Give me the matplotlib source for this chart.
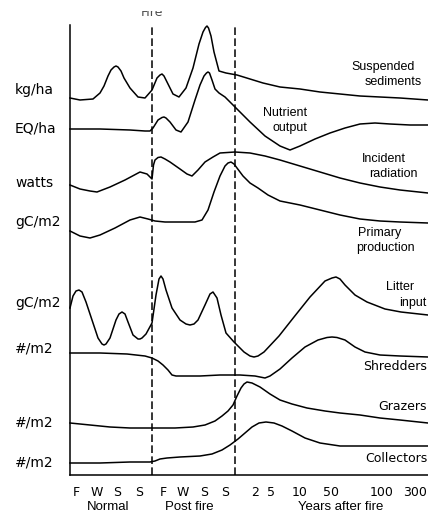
import matplotlib.pyplot as plt
from matplotlib.transforms import Bbox, TransformedBbox

# time axis: seasons (normal year, post fire year) then years after fire
tick_pos = [76, 97, 117, 139, 163, 183, 204, 225, 255, 271, 300, 331, 382, 415]
tick_labels = ['F', 'W', 'S', 'S', 'F', 'W', 'S', 'S', '2', '5', '10', '50', '100', '300']
fire_x = 152
recovery_x = 235

# curves (chart units, level grows downward)
sed_x = [70, 80, 93, 100, 104, 108, 111, 114, 116, 118, 121, 124, 130, 138, 145, 152, 157, 160, 162,
         164, 167, 173, 179, 186, 193, 199, 203, 205.5, 207, 208.5, 211, 214, 219, 226, 237, 250,
         263, 280, 300, 320, 340, 360, 380, 400, 428]
sed_y = [98, 100, 99, 93, 86, 76, 70, 67, 66, 67, 71, 78, 88, 97, 98, 90, 78, 75, 74,
         76, 82, 94, 97, 88, 68, 44, 32, 27.5, 26, 28, 36, 52, 71, 73, 75, 79,
         83, 87, 89, 92, 94, 96, 97, 98, 100]

nut_x = [70, 100, 130, 145, 150, 153, 158, 162, 164, 166, 170, 176, 181, 188, 195, 200, 204, 206.5,
         208, 209.5, 212, 215, 219, 225, 235, 250, 265, 280, 290, 300, 315, 330, 345, 360, 375, 390,
         410, 428]
nut_y = [129, 129, 130, 131, 131, 128, 120, 117.5, 117, 118, 122, 130, 132, 122, 100, 85, 76, 73,
         72, 73, 80, 89, 93, 97, 107, 122, 136, 146, 150, 146, 139, 133, 128, 124, 123, 124,
         125, 125]

rad_x = [70, 80, 90, 97, 110, 125, 140, 147, 152, 153.5, 155, 158, 161, 165, 170, 180, 187, 192, 198,
         205, 213, 220, 235, 250, 265, 280, 300, 320, 340, 360, 380, 400, 428]
rad_y = [185, 189, 191, 192, 187, 180, 172, 174, 179, 165, 160, 157.5, 157, 159, 162, 169, 174, 176, 170,
         162, 157, 153, 152, 153, 156, 160, 166, 172, 178, 183, 187, 190, 193]

prod_x = [70, 80, 90, 100, 115, 130, 140, 148, 155, 165, 180, 195, 202, 208, 214, 220, 225, 228, 231,
          234, 237, 243, 250, 258, 268, 280, 300, 320, 340, 360, 380, 400, 428]
prod_y = [231, 236, 238, 235, 228, 220, 217, 219, 221, 222, 222, 222, 220, 210, 192, 176, 166, 163, 162,
          164, 168, 176, 183, 188, 195, 201, 205, 210, 215, 219, 221, 222, 223]

lit_x = [70, 73, 76, 79, 82, 86, 92, 98, 102, 104, 106, 110, 116, 119, 122, 125, 128, 133, 138, 140,
         142, 146, 152, 156, 159, 161, 163, 166, 172, 180, 186, 190, 194, 198, 205, 210, 213, 217,
         221, 226, 234, 244, 250, 254, 258, 264, 279, 294, 310, 325, 332, 336, 340, 345, 355, 367,
         385, 401, 428]
lit_y = [308, 296, 291, 290, 292, 302, 320, 338, 344, 345, 344, 338, 320, 314, 312, 314, 322, 335, 339, 339,
         338, 334, 323, 295, 279, 276, 279, 290, 308, 320, 324, 325, 324, 320, 305, 294, 292, 298,
         315, 333, 342, 352, 356, 357, 356, 352, 336, 317, 297, 281, 278, 277, 279, 285, 295, 302,
         309, 312, 315]

shr_x = [70, 100, 127, 145, 152, 158, 163, 168, 172, 176, 185, 200, 220, 240, 255, 265, 270, 280,
         292, 305, 318, 327, 332, 337, 345, 355, 365, 380, 400, 428]
shr_y = [353, 353, 354, 356, 358, 361, 365, 370, 375, 376, 376, 376, 375, 375, 376, 378, 376, 369,
         358, 347, 340, 337.5, 337, 337.5, 340, 347, 352, 355, 356, 357]

gra_x = [70, 90, 110, 130, 153, 175, 193, 205, 215, 222, 228, 233, 237, 241, 244, 247, 252, 260,
         270, 280, 292, 307, 325, 340, 360, 380, 400, 428]
gra_y = [423, 425, 427, 428, 428, 428, 427, 425, 421, 416, 411, 405, 396, 388, 384, 382, 383, 387,
         394, 400, 404, 408, 411, 413, 415, 418, 420, 423]

col_x = [70, 100, 130, 150, 155, 160, 167, 180, 200, 212, 222, 230, 238, 245, 252, 259, 266, 274,
         282, 292, 305, 320, 340, 360, 390, 428]
col_y = [463, 463, 462, 462, 461, 459, 458, 457, 456, 454, 450, 445, 439, 433, 427, 423, 422, 423,
         426, 431, 438, 443, 446, 446, 446, 446]

units = ['kg/ha', 'EQ/ha', 'watts', 'gC/m2', 'gC/m2', '#/m2', '#/m2', '#/m2']
unit_y = [90, 128, 183, 222, 303, 349, 423, 462]

W, H = 428, 517
fig = plt.figure(figsize=(W / 100, H / 100), dpi=100)
ax = fig.add_axes([70 / W, (H - 475) / H, (W - 70) / W, 450 / H])
ax.set_xlim(70, 428)
ax.set_ylim(475, 25)

for xs, ys in [(sed_x, sed_y), (nut_x, nut_y), (rad_x, rad_y), (prod_x, prod_y),
               (lit_x, lit_y), (shr_x, shr_y), (gra_x, gra_y), (col_x, col_y)]:
    ax.plot(xs, ys, color='black', lw=1.1, solid_joinstyle='round', clip_on=False)

for xv in [fire_x, recovery_x]:
    ax.axvline(xv, color='black', lw=1.1, ls=(0, (5, 2.2)))

for side in ['top', 'right']:
    ax.spines[side].set_visible(False)
ax.spines['left'].set_linewidth(1.1)
ax.spines['bottom'].set_linewidth(1.1)
ax.set_yticks([])
ax.set_xticks(tick_pos)
ax.set_xticklabels(tick_labels, fontsize=9, family='DejaVu Sans')
ax.tick_params(axis='x', length=0, pad=8)

for u, yv in zip(units, unit_y):
    ax.text(15, yv, u, fontsize=10, family='DejaVu Sans', va='center', ha='left', clip_on=False)

# curve names on the right
helv = [('Suspended', 383.5, 67), ('sediments', 393, 82), ('Nutrient', 285.5, 113),
        ('output', 290, 128), ('Incident', 384, 159), ('radiation', 393.5, 174),
        ('Primary', 380, 233), ('production', 385, 248), ('Litter', 400.5, 287), ('input', 413, 303)]
for s, xv, yv in helv:
    ax.text(xv, yv, s, fontsize=9, family='Liberation Sans', ha='center', va='center', clip_on=False)
for s, yv in [('Shredders', 367), ('Grazers', 407), ('Collectors', 458)]:
    ax.text(427, yv, s, fontsize=9, family='DejaVu Sans', ha='right', va='center', clip_on=False)

for s, xv in [('Normal', 108), ('Post fire', 189.5), ('Years after fire', 341)]:
    ax.text(xv, 507, s, fontsize=9.5, family='Liberation Sans', ha='center', va='center', clip_on=False)

# "Fire" label is cut off at the top of the original scan
t = ax.text(fire_x, 12, 'Fire', fontsize=9, family='DejaVu Sans', ha='center', va='center', color='0.3')
t.set_clip_box(TransformedBbox(Bbox([[0, 0], [1, (H - 11) / H]]), fig.transFigure))
t.set_clip_on(True)

fig.savefig('out.png', dpi=100)
